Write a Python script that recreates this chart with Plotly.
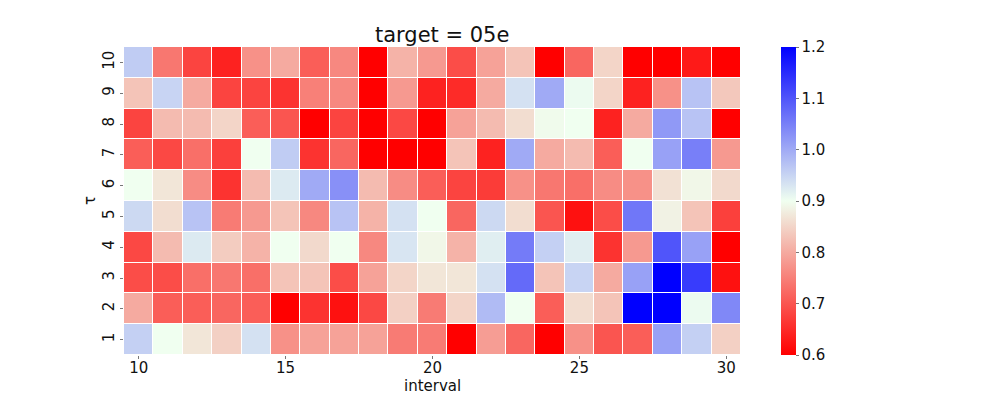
import plotly.graph_objects as go

intervals = list(range(10, 31))
taus = list(range(1, 11))

# one list per tau row, values for interval 10..30
tau_1 = [0.955, 0.90, 0.87, 0.845, 0.935, 0.77, 0.79, 0.79, 0.79, 0.745, 0.745, 0.60, 0.785, 0.72, 0.60, 0.77, 0.70, 0.71, 1.01, 0.955, 0.845]
tau_2 = [0.80, 0.71, 0.71, 0.72, 0.71, 0.60, 0.66, 0.62, 0.685, 0.845, 0.745, 0.85, 0.98, 0.90, 0.71, 0.86, 0.83, 1.20, 1.20, 0.905, 1.04]
tau_3 = [0.69, 0.69, 0.73, 0.74, 0.73, 0.83, 0.83, 0.69, 0.79, 0.85, 0.87, 0.87, 0.935, 1.075, 0.83, 0.95, 0.80, 1.01, 1.20, 1.13, 0.62]
tau_4 = [0.685, 0.82, 0.925, 0.84, 0.81, 0.90, 0.855, 0.90, 0.76, 0.93, 0.89, 0.81, 0.92, 1.055, 0.955, 0.92, 0.66, 0.78, 1.10, 1.01, 0.60]
tau_5 = [0.945, 0.86, 0.97, 0.745, 0.78, 0.83, 0.76, 0.97, 0.81, 0.935, 0.90, 0.72, 0.945, 0.86, 0.70, 0.62, 0.69, 1.06, 0.885, 0.83, 0.675]
tau_6 = [0.90, 0.87, 0.765, 0.66, 0.82, 0.925, 1.00, 1.03, 0.82, 0.765, 0.71, 0.68, 0.67, 0.77, 0.74, 0.73, 0.765, 0.77, 0.865, 0.89, 0.855]
tau_7 = [0.71, 0.685, 0.73, 0.675, 0.90, 0.96, 0.66, 0.72, 0.60, 0.60, 0.60, 0.83, 0.64, 1.00, 0.80, 0.82, 0.71, 0.90, 1.01, 1.05, 0.78]
tau_8 = [0.68, 0.82, 0.82, 0.85, 0.71, 0.70, 0.60, 0.68, 0.60, 0.685, 0.60, 0.79, 0.82, 0.86, 0.895, 0.90, 0.64, 0.80, 1.02, 0.97, 0.60]
tau_9 = [0.83, 0.95, 0.80, 0.68, 0.68, 0.66, 0.75, 0.76, 0.60, 0.78, 0.64, 0.65, 0.80, 0.935, 1.00, 0.905, 0.85, 0.64, 0.77, 0.97, 0.835]
tau_10 = [0.96, 0.74, 0.68, 0.64, 0.77, 0.80, 0.71, 0.76, 0.60, 0.81, 0.78, 0.69, 0.79, 0.83, 0.60, 0.72, 0.85, 0.60, 0.60, 0.63, 0.60]

z = [tau_1, tau_2, tau_3, tau_4, tau_5, tau_6, tau_7, tau_8, tau_9, tau_10]

tick_font = dict(family="DejaVu Sans", size=15, color="#111")

heat = go.Heatmap(
    x=intervals,
    y=taus,
    z=z,
    zmin=0.6,
    zmax=1.2,
    colorscale=[[0, "#ff0000"], [0.5, "#f0fff0"], [1, "#0000ff"]],
    xgap=1,
    ygap=1,
    colorbar=dict(
        x=1.065, xanchor="left", y=0.5, yanchor="middle",
        len=1, lenmode="fraction", thickness=15, ypad=0, xpad=0,
        outlinewidth=0,
        tickvals=[0.6, 0.7, 0.8, 0.9, 1.0, 1.1, 1.2],
        ticktext=["0.6", "0.7", "0.8", "0.9", "1.0", "1.1", "1.2"],
        ticks="outside", ticklen=3, tickcolor="#777",
        tickfont=tick_font,
    ),
    hovertemplate="interval %{x}<br>τ %{y}<br>%{z:.2f}<extra></extra>",
)

# the page body adds 8px on the left/top, so the figure is 8px smaller
layout = go.Layout(
    width=989,
    height=391,
    margin=dict(l=116, r=256, t=39, b=44),
    paper_bgcolor="white",
    plot_bgcolor="white",
    title=dict(text="target = 05e", x=0.439, xanchor="center", y=0.931, yanchor="middle",
               font=dict(family="DejaVu Sans", size=21, color="#111")),
    xaxis=dict(
        range=[9.5, 30.5], tickvals=[10, 15, 20, 25, 30], automargin=False,
        ticks="outside", ticklen=3, tickcolor="#777", tickfont=tick_font,
        ticklabelstandoff=-4,
        showgrid=False, zeroline=False,
    ),
    yaxis=dict(
        range=[0.5, 10.5], tickvals=taus, tickangle=-90, automargin=False,
        ticks="outside", ticklen=3, tickcolor="#777", tickfont=tick_font,
        showgrid=False, zeroline=False,
    ),
    annotations=[
        dict(text="interval", xref="paper", yref="paper", x=0.5, y=-0.1,
             xanchor="center", yanchor="middle", showarrow=False, font=tick_font),
        dict(text="τ", xref="paper", yref="paper", x=-0.055, y=0.5, textangle=-90,
             xanchor="center", yanchor="middle", showarrow=False, font=tick_font),
    ],
)

fig = go.Figure(data=[heat], layout=layout)
fig.write_html("out.html")
